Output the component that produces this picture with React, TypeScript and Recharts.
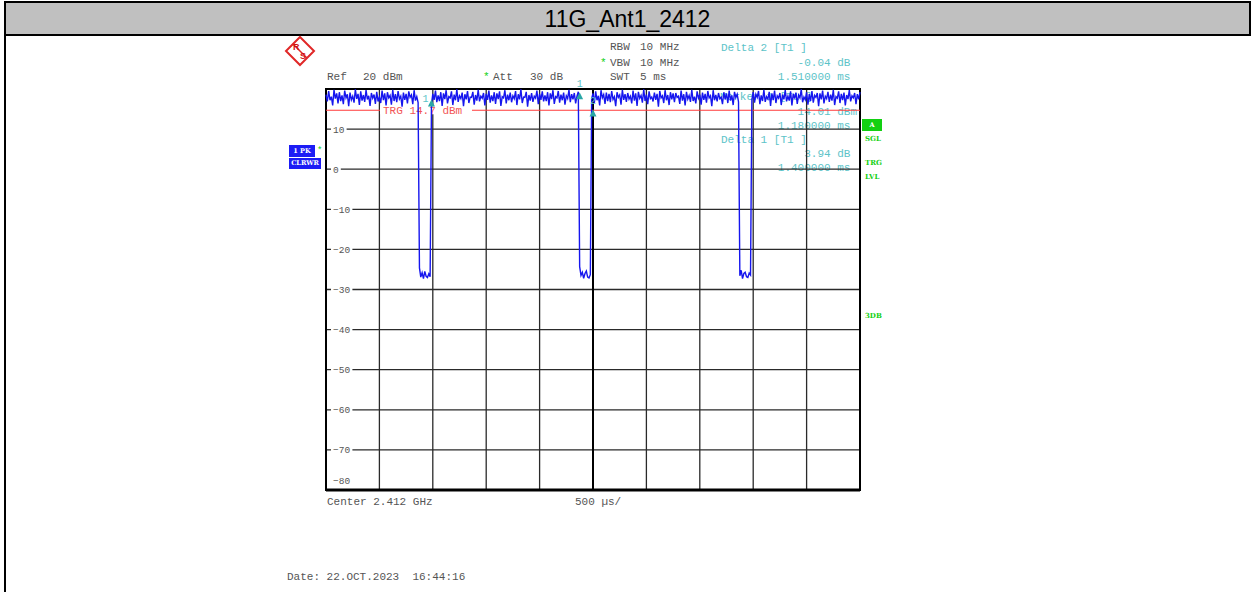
import { CartesianGrid, Line, LineChart, ReferenceArea, ReferenceDot, ReferenceLine, XAxis, YAxis } from 'recharts';

// sweep samples (dBm)
const burst1 = [
  18.6, 16.9, 19.5, 17.2, 18.1, 15.9, 19.8, 17.6, 18.9, 16.4,
  19.2, 17.0, 18.4, 16.2, 19.6, 17.8, 18.7, 15.7, 19.1, 17.3,
  18.2, 16.6, 19.9, 17.5, 18.8, 16.0, 19.4, 17.1, 18.5, 16.8,
  19.7, 17.4, 18.3, 15.8, 19.0, 17.7, 18.6, 16.3, 19.3, 16.9,
  18.0, 16.5, 19.6, 17.2, 18.9, 15.9, 19.2, 17.8, 18.4, 16.1,
  19.8, 17.0, 18.7, 16.7, 19.5, 17.5, 18.2, 15.6, 19.1, 17.3,
  18.8, 16.4, 19.4, 17.9, 18.5, 16.2, 19.7, 17.1, 18.1, 16.6,
];
const gap1 = [-24.6, -26.9, -25.8, -27.3, -25.5, -26.7, -27.0, -26.1, -26.8];
const burst2 = [
  16.2, 18.8, 17.3, 19.6, 16.7, 18.4, 17.0, 19.2, 15.8, 18.9,
  17.5, 19.7, 16.4, 18.1, 17.8, 19.4, 16.0, 18.6, 17.2, 19.9,
  16.8, 18.3, 17.6, 19.1, 15.7, 18.7, 17.4, 19.5, 16.5, 18.0,
  17.9, 19.3, 16.1, 18.5, 17.1, 19.8, 16.9, 18.2, 17.7, 19.0,
  15.9, 18.8, 17.3, 19.6, 16.6, 18.4, 17.0, 19.2, 16.3, 18.9,
  17.5, 19.4, 15.8, 18.1, 17.8, 19.7, 16.4, 18.6, 17.2, 19.1,
  16.7, 18.3, 17.6, 19.5, 16.0, 18.7, 17.4, 19.9, 16.5, 18.0,
  17.9, 19.3, 15.6, 18.5, 17.1, 19.0, 16.8, 18.2, 17.7, 19.6,
  16.2, 18.8, 17.3, 19.4, 16.9, 18.4, 17.0, 19.2, 15.9, 18.9,
  17.5, 19.7, 16.3, 18.1, 17.8, 19.5, 16.6, 18.6, 17.2, 19.1,
  16.1, 18.3, 17.6, 19.8, 16.7, 18.7, 17.4, 19.0, 16.4, 18.2,
  19.3,
];
const gap2 = [-24.3, -26.5, -25.7, -27.2, -26.0, -25.4, -26.9, -27.1, -26.3];
const burst3 = [
  17.6, 18.9, 16.5, 19.4, 17.2, 18.3, 15.9, 19.7, 17.8, 18.6,
  16.3, 19.1, 17.0, 18.8, 16.7, 19.5, 17.4, 18.1, 15.7, 19.2,
  17.9, 18.5, 16.1, 19.8, 17.3, 18.7, 16.8, 19.0, 17.5, 18.2,
  16.4, 19.6, 17.1, 18.9, 15.8, 19.3, 17.7, 18.4, 16.6, 19.9,
  17.0, 18.6, 16.2, 19.4, 17.6, 18.0, 16.9, 19.1, 17.3, 18.8,
  15.6, 19.5, 17.8, 18.3, 16.5, 19.7, 17.2, 18.5, 16.0, 19.2,
  17.4, 18.9, 16.7, 19.0, 17.9, 18.2, 16.3, 19.6, 17.1, 18.7,
  15.9, 19.3, 17.5, 18.4, 16.8, 19.8, 17.0, 18.1, 16.4, 19.4,
  17.7, 18.6, 16.1, 19.1, 17.3, 18.8, 16.6, 19.5, 17.8, 18.3,
  15.7, 19.7, 17.2, 18.5, 16.9, 19.0, 17.6, 18.0, 16.2, 19.2,
  17.4, 18.9, 16.5, 19.6, 17.1, 18.4, 16.0, 19.3, 17.9, 18.7,
  16.8,
];
const gap3 = [-26.6, -25.2, -27.3, -26.0, -25.7, -26.8, -27.0, -25.9, -26.4];
const burst4 = [
  17.3, 19.2, 16.6, 18.7, 17.9, 19.5, 16.2, 18.4, 17.0, 19.8,
  16.8, 18.1, 17.5, 19.3, 15.8, 18.9, 17.2, 19.6, 16.5, 18.3,
  17.7, 19.0, 16.0, 18.6, 17.4, 19.7, 16.9, 18.2, 17.1, 19.4,
  15.9, 18.8, 17.6, 19.1, 16.3, 18.5, 17.8, 19.9, 16.7, 18.0,
  17.3, 19.2, 16.1, 18.7, 17.0, 19.5, 16.6, 18.4, 17.9, 19.0,
  15.7, 18.9, 17.4, 19.6, 16.4, 18.2, 17.6, 19.3, 16.8, 18.6,
  17.1, 19.8, 16.0, 18.1, 17.7, 19.4, 16.5, 18.8, 17.2, 19.1,
  15.9, 18.5, 17.5, 19.7, 16.9, 18.3, 17.8, 19.0, 16.2, 18.7,
  17.4, 19.2,
];

const yTicks = [20, 10, 0, -10, -20, -30, -40, -50, -60, -70, -80];
const xDivs = [0, 40, 80, 120, 160, 200, 240, 280, 320, 360, 400];
const trgLevel = 14.7;
const markers = [
  { i: 79, v: 16.4, label: '1' },
  { i: 190, v: 18.2, label: '1' },
  { i: 200, v: 13.9, label: '2' },
];

const trace = [...burst1, ...gap1, ...burst2, ...gap2, ...burst3, ...gap3, ...burst4].map((v, i) => ({ i, v }));

const LEFT = 326;
const TEAL = '#5cc3c8';
const GREEN = '#12d012';
const GREY = '#555';
const mono = '"Liberation Mono", "DejaVu Sans Mono", monospace';
const serifBold = '"DejaVu Serif", "Liberation Serif", serif';

const DbTick = (props: any) => {
  const { y, payload } = props;
  const v = payload.value as number;
  if (v === 20) return <g />;
  const label = String(v).replace('-', '\u2212');
  const bottom = v === -80;
  return (
    <g>
      {!bottom && <rect x={LEFT + 5} y={y - 4} width={label.length * 5.8 + 4} height={8} fill="#fff" />}
      <text x={LEFT + 7} y={bottom ? y - 10 : y} dy={3.5} fontSize={9.5} fill={GREY} fontFamily={mono}>
        {label}
      </text>
    </g>
  );
};

const MarkerShape = (props: any) => {
  const { cx, cy, label, first } = props;
  return (
    <g>
      <path d={`M${cx - 3.5},${cy + 3} L${cx + 3.5},${cy + 3} L${cx},${cy - 4} Z`} fill="#2aa6a6" />
      <text x={first ? cx - 9 : cx - 3} y={first ? cy - 1 : cy - 9} fontSize={10} fill={TEAL} fontFamily={mono}>
        {label}
      </text>
    </g>
  );
};

const TrgLabel = (props: any) => {
  const y = props.viewBox?.y ?? 0;
  return (
    <g>
      <rect x={LEFT + 54} y={y - 4} width={92} height={8} fill="#fff" />
      <text x={LEFT + 57} y={y} dy={4} fontSize={11} fill="#f25555" fontFamily={mono}>
        TRG 14.7 dBm
      </text>
    </g>
  );
};

const T = ({ x, y, c = GREY, s = 11, right = false, children }: any) => (
  <div
    style={{
      position: 'absolute',
      top: y - s / 2 - 1,
      left: right ? undefined : x,
      right: right ? 1252 - x : undefined,
      color: c,
      fontSize: s,
      lineHeight: `${s + 2}px`,
      fontFamily: mono,
      whiteSpace: 'pre',
    }}
  >
    {children}
  </div>
);

const Box = ({ x, y, w, h, bg, children }: any) => (
  <div
    style={{
      position: 'absolute',
      left: x,
      top: y,
      width: w,
      height: h,
      background: bg,
      color: '#fff',
      fontSize: 6.5,
      fontWeight: 700,
      fontFamily: serifBold,
      lineHeight: `${h}px`,
      textAlign: 'center',
      overflow: 'hidden',
      whiteSpace: 'pre',
    }}
  >
    {children}
  </div>
);

const Side = ({ y, children }: any) => (
  <div style={{ position: 'absolute', left: 865, top: y - 5, color: GREEN, fontSize: 7, fontWeight: 700, fontFamily: serifBold, lineHeight: '10px' }}>
    {children}
  </div>
);

export default function App() {
  return (
    <div style={{ position: 'absolute', left: 0, top: 0, width: 1252, height: 592, background: '#fff', overflow: 'hidden' }}>
      <div
        style={{
          position: 'absolute',
          left: 4,
          top: 1,
          width: 1243,
          height: 31,
          background: '#c0c0c0',
          border: '2px solid #000',
          textAlign: 'center',
          fontFamily: '"Liberation Sans", Arial, sans-serif',
          fontSize: 23,
          lineHeight: '33px',
          color: '#000',
        }}
      >
        11G_Ant1_2412
      </div>
      <div style={{ position: 'absolute', left: 4, top: 34, width: 2, height: 560, background: '#000' }} />

      <svg style={{ position: 'absolute', left: 284, top: 35 }} width={32} height={32}>
        <path d="M16,2 L30,16 L16,30 L2,16 Z" fill="none" stroke="#e02828" strokeWidth={2} />
        <path d="M9,9 L23,23" stroke="#e02828" strokeWidth={1.5} />
        <text x={9} y={15} fontSize={9} fontWeight={700} fill="#d01010" fontFamily="Liberation Sans">R</text>
        <text x={16} y={24} fontSize={9} fontWeight={700} fill="#d01010" fontFamily="Liberation Sans">S</text>
      </svg>

      <T x={327} y={77}>Ref</T>
      <T x={363} y={77}>20 dBm</T>
      <T x={483} y={77} c={GREEN}>*</T>
      <T x={493} y={77}>Att</T>
      <T x={530} y={77}>30 dB</T>
      <T x={610} y={47}>RBW</T>
      <T x={640} y={47}>10 MHz</T>
      <T x={600} y={63} c={GREEN}>*</T>
      <T x={610} y={63}>VBW</T>
      <T x={640} y={63}>10 MHz</T>
      <T x={610} y={77}>SWT</T>
      <T x={640} y={77}>5 ms</T>

      <T x={721} y={48} c={TEAL}>Delta 2 [T1 ]</T>
      <T x={857} y={63} c={TEAL} right>{'-0.04 dB '}</T>
      <T x={857} y={77} c={TEAL} right>{'1.510000 ms '}</T>
      <T x={720} y={97} c={TEAL}>Marker 1 [T1 ]</T>
      <T x={857} y={112} c={TEAL} right>14.01 dBm</T>
      <T x={857} y={126} c={TEAL} right>{'1.180000 ms '}</T>
      <T x={721} y={140} c={TEAL}>Delta 1 [T1 ]</T>
      <T x={857} y={154} c={TEAL} right>{'3.94 dB '}</T>
      <T x={857} y={168} c={TEAL} right>{'1.400000 ms '}</T>

      <T x={327} y={502}>Center 2.412 GHz</T>
      <T x={575} y={502}>500 µs/</T>
      <T x={287} y={577}>Date: 22.OCT.2023  16:44:16</T>

      <div style={{ position: 'absolute', left: 0, top: 0 }}>
        <LineChart width={1252} height={592} data={trace} margin={{ top: 89, right: 392, bottom: 102, left: LEFT }}>
          <CartesianGrid stroke="#2a2a2a" strokeWidth={1.3} />
          <XAxis dataKey="i" type="number" domain={[0, 400]} ticks={xDivs} hide />
          <YAxis type="number" domain={[-80, 20]} ticks={yTicks} mirror axisLine={false} tickLine={false} tick={<DbTick />} interval={0} />
          <ReferenceLine x={200} stroke="#000" strokeWidth={2} />
          <ReferenceLine y={-80} stroke="#000" strokeWidth={3} />
          <ReferenceLine y={trgLevel} stroke="#ff3a3a" strokeWidth={1.2} label={<TrgLabel />} />
          <ReferenceArea x1={0} x2={400} y1={-80} y2={20} fill="none" stroke="#000" strokeWidth={2} />
          <Line dataKey="v" type="linear" stroke="#1616ee" strokeWidth={1.4} dot={false} isAnimationActive={false} />
          {markers.map((m, k) => (
            <ReferenceDot
              key={k}
              x={m.i}
              y={m.v}
              ifOverflow="visible"
              shape={<MarkerShape label={m.label} first={k === 0} />}
            />
          ))}
        </LineChart>
      </div>

      <Box x={289} y={145} w={26} h={12} bg="#1c1cf5">1 PK</Box>
      <T x={317} y={151} c={GREEN} s={9}>*</T>
      <Box x={289} y={158} w={32} h={11} bg="#1c1cf5">CLRWR</Box>
      <Box x={862} y={119} w={20} h={12} bg={GREEN}>A</Box>
      <Side y={139}>SGL</Side>
      <Side y={163}>TRG</Side>
      <Side y={177}>LVL</Side>
      <Side y={316}>3DB</Side>
    </div>
  );
}
